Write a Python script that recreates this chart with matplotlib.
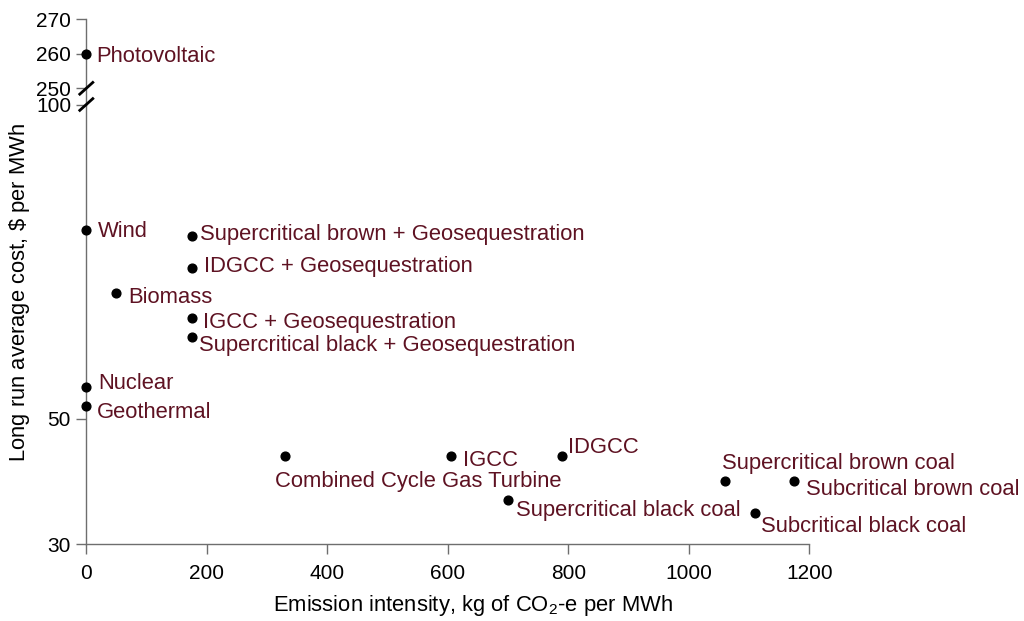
import matplotlib
matplotlib.use('Agg')
import matplotlib.pyplot as plt
from matplotlib.lines import Line2D
import matplotlib.transforms as mtransforms

plt.rcParams['font.family'] = ['Liberation Sans', 'DejaVu Sans']
plt.rcParams['mathtext.fontset'] = 'custom'
plt.rcParams['mathtext.rm'] = 'Liberation Sans'
plt.rcParams['mathtext.it'] = 'Liberation Sans:italic'
plt.rcParams['mathtext.bf'] = 'Liberation Sans:bold'

# ---------------- data ----------------
technologies = [
    "Photovoltaic", "Wind", "Supercritical brown + Geosequestration",
    "IDGCC + Geosequestration", "Biomass", "IGCC + Geosequestration",
    "Supercritical black + Geosequestration", "Nuclear", "Geothermal",
    "Combined Cycle Gas Turbine", "IGCC", "IDGCC", "Supercritical black coal",
    "Supercritical brown coal", "Subcritical brown coal", "Subcritical black coal",
]
emission_intensity = [0, 0, 175, 175, 50, 175, 175, 0, 0,
                      330, 605, 790, 700, 1060, 1175, 1110]
cost = [260, 80, 79, 74, 70, 66, 63, 55, 52,
        44, 44, 44, 37, 40, 40, 35]

x_ticks = [0, 200, 400, 600, 800, 1000, 1200]
y_ticks_low = [30, 50, 100]
y_ticks_high = [250, 260, 270]
low_range = (30, 100)
high_range = (250, 270)

x_label = "Emission intensity, kg of CO$_2$-e per MWh"
y_label = "Long run average cost, $\\$$ per MWh"

# label offsets in pixels (dx, dy of text visual centre relative to marker, up positive)
label_offsets_px = {
    "Photovoltaic": (10, 0),
    "Wind": (12, 1),
    "Supercritical brown + Geosequestration": (8, 4),
    "IDGCC + Geosequestration": (12.6, 4),
    "Biomass": (11.6, -2.4),
    "IGCC + Geosequestration": (11, -2),
    "Supercritical black + Geosequestration": (7, -6.7),
    "Nuclear": (12, 6),
    "Geothermal": (10.7, -4.4),
    "Combined Cycle Gas Turbine": (-10.3, -22.7),
    "IGCC": (11.7, -2),
    "IDGCC": (6, 11),
    "Supercritical black coal": (7.7, -8),
    "Supercritical brown coal": (-3.3, 20),
    "Subcritical brown coal": (11.7, -5.3),
    "Subcritical black coal": (6, -11.7),
}

# ---------------- styling ----------------
W, H = 1024, 621
DPI = 100
TEXT_COLOR = '#5E1222'
AXIS_COLOR = '#6E6E6E'
PX2PT = 72.0 / DPI
LABEL_FS = 15.8
TICK_FS = 15.0

fig = plt.figure(figsize=(W / DPI, H / DPI), dpi=DPI)
fig.patch.set_facecolor('white')

ax_left_px, ax_right_px = 86.3, 809.3
low_top_px, low_bot_px = 104.5, 544.3
high_top_px, high_bot_px = 19.3, 88.3

def rect(l, r, t, b):
    return [l / W, 1 - b / H, (r - l) / W, (b - t) / H]

ax_low = fig.add_axes(rect(ax_left_px, ax_right_px, low_top_px, low_bot_px))
ax_high = fig.add_axes(rect(ax_left_px, ax_right_px, high_top_px, high_bot_px))

for ax in (ax_low, ax_high):
    ax.set_xlim(0, 1200)
    ax.patch.set_alpha(0)
    for s in ('top', 'right'):
        ax.spines[s].set_visible(False)
    for s in ('left', 'bottom'):
        ax.spines[s].set_color(AXIS_COLOR)
        ax.spines[s].set_linewidth(1.0)
    ax.tick_params(axis='both', colors=AXIS_COLOR, labelcolor='black',
                   labelsize=TICK_FS, direction='out', length=7, width=1.0)
    ax.tick_params(axis='y', pad=4)
    ax.tick_params(axis='x', pad=7)

ax_low.set_ylim(*low_range)
ax_low.set_yticks(y_ticks_low)
ax_low.set_xticks(x_ticks)

ax_high.set_ylim(*high_range)
ax_high.set_yticks(y_ticks_high)
ax_high.spines['bottom'].set_visible(False)
ax_high.set_xticks([])

# connecting spine segment between the two axes and break marks
x_frac = ax_left_px / W
fig.add_artist(Line2D([x_frac, x_frac], [1 - high_bot_px / H, 1 - low_top_px / H],
                      color=AXIS_COLOR, lw=1.0, transform=fig.transFigure))
inv = fig.transFigure.inverted()
d = 6.5 / DPI
for ax, ypos in ((ax_high, 0.0), (ax_low, 1.0)):
    t1 = ax.transAxes + mtransforms.ScaledTranslation(-d, -d * 0.9, fig.dpi_scale_trans)
    t2 = ax.transAxes + mtransforms.ScaledTranslation(d, d * 0.9, fig.dpi_scale_trans)
    q1 = inv.transform(t1.transform((0, ypos)))
    q2 = inv.transform(t2.transform((0, ypos)))
    fig.add_artist(Line2D([q1[0], q2[0]], [q1[1], q2[1]], color='black',
                          lw=2.0, transform=fig.transFigure, clip_on=False))

# ---------------- points and labels ----------------
for name, xv, yv in zip(technologies, emission_intensity, cost):
    ax = ax_high if yv >= high_range[0] else ax_low
    ax.plot([xv], [yv], 'o', color='black', markersize=6.3, clip_on=False, zorder=5)
    dx, dy = label_offsets_px[name]
    ax.annotate(name, xy=(xv, yv), xytext=(dx * PX2PT, (dy - 7.8) * PX2PT),
                textcoords='offset points', ha='left', va='baseline',
                fontsize=LABEL_FS, color=TEXT_COLOR, annotation_clip=False)

# ---------------- axis labels ----------------
fig.text(472.5 / W, 1 - 610.7 / H, x_label, ha='center', va='baseline',
         fontsize=LABEL_FS, color='black')
fig.text(20 / W, 1 - 292 / H, y_label, ha='center', va='center', rotation=90,
         fontsize=LABEL_FS, color='black')

fig.savefig('out.png', dpi=DPI, facecolor='white')
